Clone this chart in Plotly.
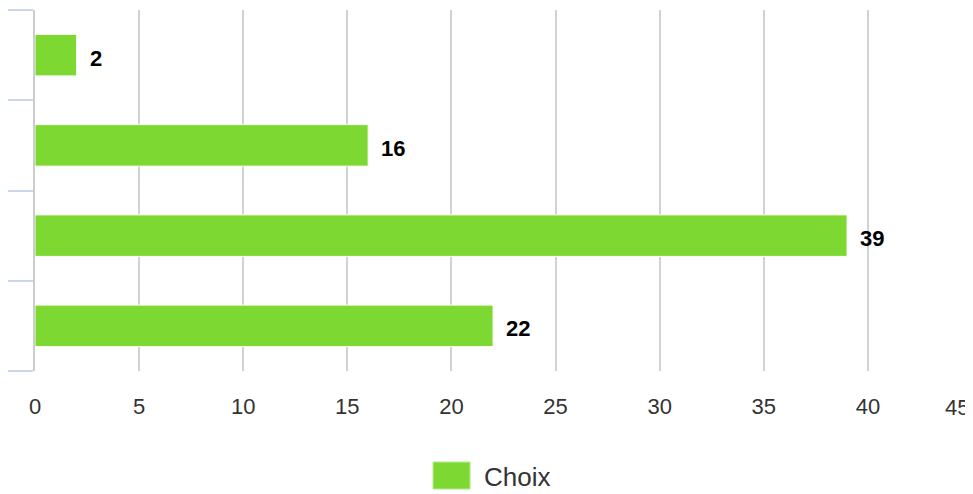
import plotly.graph_objects as go

# Data
positions = [0, 1, 2, 3]          # category slots, top to bottom
values = [2, 16, 39, 22]
series_name = "Choix"
x_ticks = [0, 5, 10, 15, 20, 25, 30, 35, 40]
x_last_tick = 45
cat_bounds = [-0.5, 0.5, 1.5, 2.5, 3.5]

BAR = "#7ed832"
FONT = "Liberation Sans, Arial, sans-serif"

fig = go.Figure()
fig.add_trace(go.Bar(
    x=values, y=positions, orientation="h", width=0.46,
    marker=dict(color=BAR, line=dict(color="#ffffff", width=1)),
    name=series_name, showlegend=False, hoverinfo="x",
))

annotations = []
for p, v in zip(positions, values):
    annotations.append(dict(
        x=v, y=p, xref="x", yref="y", text=f"<b>{v}</b>", showarrow=False,
        xanchor="left", yanchor="middle", xshift=11, yshift=-3,
        font=dict(family=FONT, size=22, color="#000000"),
    ))
# last x tick label, kept inside the figure like the original
annotations.append(dict(
    x=x_last_tick, y=0, xref="x", yref="paper", text=str(x_last_tick), showarrow=False,
    xanchor="right", yanchor="top", yshift=-22, xshift=-1,
    font=dict(family=FONT, size=22, color="#333333"),
))
# legend label
annotations.append(dict(
    x=0.477, y=-0.2936, xref="paper", yref="paper", text=series_name, showarrow=False,
    xanchor="left", yanchor="middle",
    font=dict(family=FONT, size=26, color="#333333"),
))

shapes = [dict(
    type="rect", xref="paper", yref="paper",
    x0=0.4248, x1=0.4643, y0=-0.2521, y1=-0.3269,
    fillcolor=BAR, line=dict(color="#b5ec8c", width=1),
)]

# page body has an 8px margin, so the figure is shifted by 8px
fig.update_layout(
    width=965, height=486,
    margin=dict(l=27, r=1, t=2, b=123),
    paper_bgcolor="white", plot_bgcolor="white",
    annotations=annotations, shapes=shapes,
    showlegend=False,
    font=dict(family=FONT, color="#333333"),
)
fig.update_xaxes(
    range=[0, 45], tickvals=x_ticks, ticktext=[str(t) for t in x_ticks],
    showgrid=True, gridcolor="#d2d2d2", gridwidth=2,
    zeroline=False, showline=False, ticks="",
    ticklabelstandoff=20,
    tickfont=dict(family=FONT, size=22, color="#333333"),
)
fig.update_yaxes(
    range=[3.5, -0.5], tickvals=cat_bounds, showticklabels=False,
    ticks="outside", ticklen=25, tickwidth=2, tickcolor="#ccd6eb",
    showgrid=False, zeroline=False,
    showline=True, linecolor="#cccccc", linewidth=2,
)

fig.write_html("out.html")
